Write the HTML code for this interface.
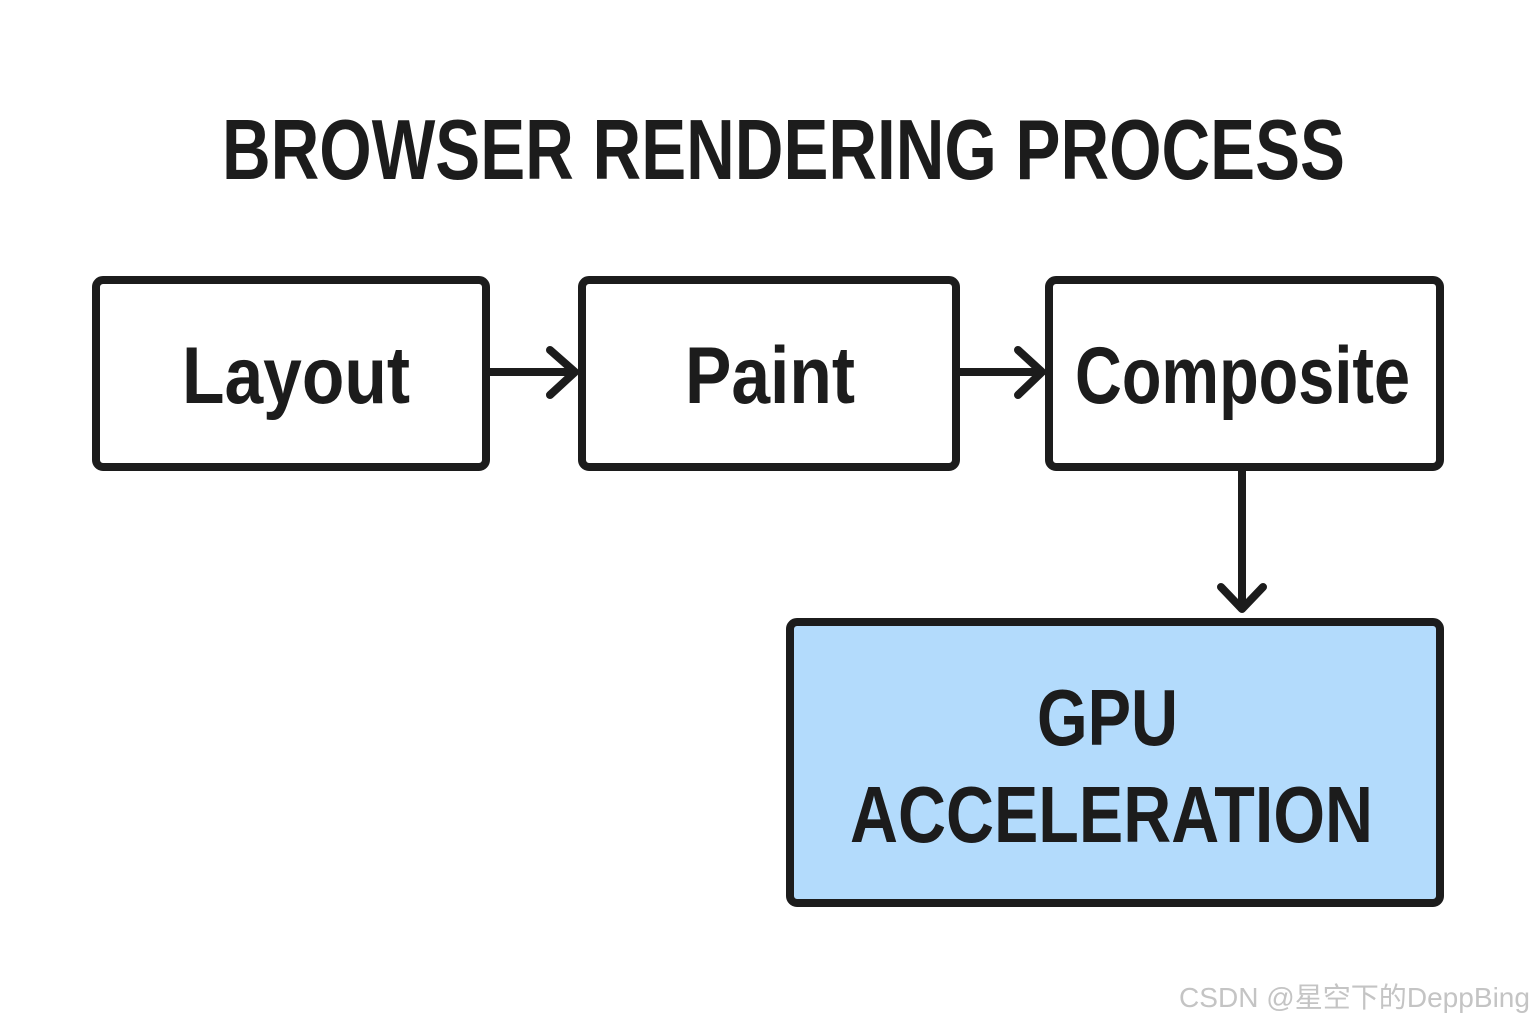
<!DOCTYPE html>
<html><head><meta charset="utf-8"><style>
html,body{margin:0;padding:0;background:#fff;}
svg{display:block;}
text{font-family:"Liberation Sans",sans-serif;font-weight:bold;fill:#1c1c1c;}
</style></head><body>
<svg width="1536" height="1024" viewBox="0 0 1536 1024" xmlns="http://www.w3.org/2000/svg">
<rect width="1536" height="1024" fill="#fff"/>
<text x="222" y="179" font-size="85" textLength="1123" lengthAdjust="spacingAndGlyphs">BROWSER RENDERING PROCESS</text>
<g fill="none" stroke="#1c1c1c" stroke-width="8" stroke-linecap="round" stroke-linejoin="round">
<rect x="96" y="280" width="390" height="187" rx="7"/>
<rect x="582" y="280" width="374" height="187" rx="7"/>
<rect x="1049" y="280" width="391" height="187" rx="7"/>
<rect x="790" y="622" width="650" height="281" rx="7" fill="#b3dbfc"/>
<path d="M490 372 H574 M550 350 L575 372 L550 395"/>
<path d="M960 372 H1041 M1018 350 L1042 372 L1018 395"/>
<path d="M1242 471 V607 M1221 587 L1242 609 L1263 587"/>
</g>
<text x="182" y="403" font-size="81" textLength="228" lengthAdjust="spacingAndGlyphs">Layout</text>
<text x="685" y="403" font-size="81" textLength="170" lengthAdjust="spacingAndGlyphs">Paint</text>
<text x="1075" y="403" font-size="81" textLength="335" lengthAdjust="spacingAndGlyphs">Composite</text>
<text x="1037" y="745" font-size="80" textLength="141" lengthAdjust="spacingAndGlyphs">GPU</text>
<text x="850" y="842" font-size="80" textLength="523" lengthAdjust="spacingAndGlyphs">ACCELERATION</text>
<text x="1179" y="1007" font-size="28" textLength="351" lengthAdjust="spacingAndGlyphs" style="font-family:'Liberation Sans','Noto Sans CJK SC',sans-serif;font-weight:normal;fill:#c4c4c4;">CSDN @星空下的DeppBing</text>
</svg>
</body></html>
